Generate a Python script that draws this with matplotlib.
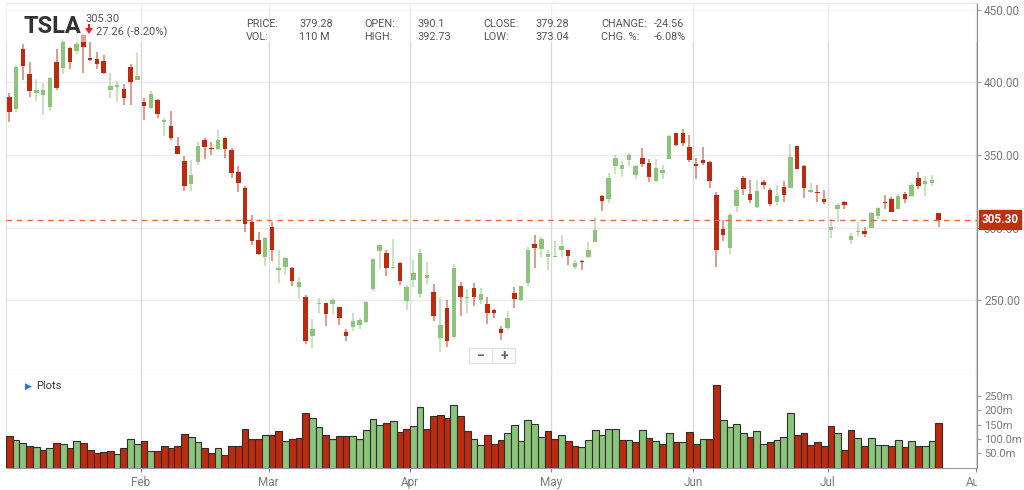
import numpy as np
import pandas as pd
import matplotlib.pyplot as plt
from matplotlib.patches import Rectangle, Polygon
from matplotlib.transforms import Bbox, TransformedBbox

plt.rcParams['font.family'] = ['Roboto', 'DejaVu Sans']

# TSLA daily bars, Jan 2 - Jul 24 2025
holidays = ['2025-01-09', '2025-01-20', '2025-02-17', '2025-04-18',
            '2025-05-26', '2025-06-19', '2025-07-04']
dates = pd.bdate_range('2025-01-02', '2025-07-24', freq='C', holidays=holidays)

opens = [390.10, 381.48, 423.20, 405.83, 392.95, 391.40, 383.21, 414.34, 409.90, 423.49,
         421.50, 432.64, 416.81, 416.06, 414.45, 394.80, 396.91, 395.21, 410.78, 401.53,
         386.68, 382.63, 387.51, 373.03, 370.19, 356.21, 345.80, 329.94, 345.00, 360.62,
         355.01, 354.00, 361.51, 353.44, 338.14, 327.02, 303.71, 291.16, 279.50,
         300.34, 270.93, 272.92, 272.06, 259.32, 252.54, 225.31, 247.22, 248.13, 247.31,
         245.06, 228.16, 231.61, 233.35, 234.99, 258.08, 283.60, 282.66, 272.48, 275.58, 249.31,
         263.80, 254.60, 265.29, 255.38, 223.78, 245.00, 224.69, 260.00, 251.84, 258.36,
         249.91, 247.61, 243.47, 230.26, 230.96, 254.86, 250.50, 261.69, 288.98, 285.50, 279.90,
         280.01, 284.90, 284.57, 273.11, 276.88, 279.63, 290.21, 321.99, 320.00, 342.50,
         340.34, 346.24, 336.30, 347.87, 344.43, 331.90, 337.92, 347.35, 364.84, 365.29, 355.52,
         343.50, 346.60, 345.10, 322.49, 298.83, 285.96, 314.94, 334.40, 323.08, 313.97,
         331.29, 326.09, 317.31, 327.95, 327.54, 356.17, 342.70, 324.61, 324.51, 319.90,
         298.46, 312.63, 317.99, 291.37, 297.00, 297.55, 300.05, 307.89, 317.73, 319.68,
         312.80, 323.15, 321.66, 334.40, 329.74, 330.90, 310.00]
highs = [392.73, 411.88, 426.43, 414.33, 402.50, 399.28, 403.79, 422.64, 429.80, 424.00,
         439.74, 433.20, 428.00, 420.73, 418.88, 406.69, 400.59, 398.59, 412.50, 419.99,
         389.17, 394.00, 388.39, 375.40, 380.55, 362.70, 349.37, 346.40, 358.69, 362.00,
         359.10, 367.34, 362.30, 354.98, 342.40, 328.89, 309.00, 297.23, 293.88,
         303.94, 284.35, 279.55, 272.65, 266.25, 253.37, 237.06, 251.84, 248.29, 251.58,
         245.40, 230.10, 241.41, 238.00, 249.52, 278.64, 288.20, 284.90, 291.85, 276.10, 260.56,
         277.45, 284.99, 276.30, 261.00, 252.00, 250.44, 274.69, 262.49, 257.74, 261.80,
         258.75, 251.97, 244.34, 232.21, 242.79, 259.45, 259.54, 286.85, 294.86, 293.32, 284.45,
         290.87, 294.78, 284.85, 277.73, 277.92, 289.80, 307.04, 322.21, 337.59, 350.00,
         346.14, 351.62, 343.00, 354.99, 347.35, 347.27, 343.18, 363.79, 365.00, 367.71, 363.68,
         348.02, 355.40, 345.60, 324.55, 305.50, 309.83, 327.83, 335.50, 332.56, 332.99,
         332.70, 327.26, 329.32, 332.36, 357.54, 356.26, 343.00, 331.05, 329.34, 325.58,
         305.89, 316.83, 318.45, 296.15, 304.05, 300.15, 310.48, 314.09, 322.60, 321.20,
         323.50, 324.34, 330.90, 338.00, 335.41, 336.20, 310.15]
lows = [373.04, 379.45, 401.70, 390.00, 387.40, 377.29, 380.07, 394.54, 405.66, 409.13,
        419.75, 406.31, 414.59, 408.95, 405.78, 389.00, 386.50, 384.48, 384.41, 401.34,
        374.36, 381.40, 375.53, 363.18, 360.34, 350.51, 325.10, 325.35, 342.85, 347.50,
        350.02, 353.67, 348.00, 334.42, 324.70, 297.25, 288.04, 280.88, 273.60,
        277.30, 261.84, 267.71, 260.02, 250.73, 220.00, 217.02, 241.10, 232.60, 240.73,
        232.80, 222.28, 229.20, 230.05, 234.55, 256.33, 271.28, 266.51, 271.82, 260.57, 243.36,
        259.25, 251.27, 261.51, 236.00, 214.25, 217.80, 223.88, 239.33, 241.36, 245.93,
        247.54, 233.89, 237.68, 222.79, 229.85, 244.43, 249.20, 259.63, 272.42, 280.00, 270.78,
        279.81, 279.81, 274.40, 271.35, 271.00, 279.41, 290.00, 311.50, 316.80, 337.00,
        334.72, 342.33, 333.37, 341.63, 331.39, 331.39, 333.21, 347.32, 355.91, 356.00, 345.29,
        333.33, 343.04, 327.33, 273.21, 291.14, 281.85, 310.67, 322.50, 316.86, 313.30,
        326.26, 314.74, 315.45, 317.78, 327.48, 340.44, 320.40, 323.61, 317.50, 316.60,
        293.21, 303.82, 312.76, 288.77, 294.35, 293.55, 300.00, 305.65, 312.67, 310.50,
        312.62, 317.06, 321.42, 326.88, 321.55, 328.67, 300.41]
closes = [379.28, 410.44, 411.05, 394.36, 394.94, 394.74, 403.31, 396.36, 428.22, 413.82,
          426.50, 424.07, 415.11, 412.38, 406.58, 397.15, 398.09, 389.10, 400.28, 404.60,
          383.68, 392.21, 378.17, 374.32, 361.62, 350.73, 328.50, 336.51, 355.94, 355.84,
          354.11, 360.56, 354.40, 337.80, 330.53, 302.80, 290.80, 281.95, 292.98,
          284.65, 272.04, 279.10, 263.45, 262.67, 222.15, 230.58, 248.09, 240.68, 249.98,
          238.01, 225.31, 235.86, 236.26, 248.71, 278.39, 288.14, 272.06, 273.13, 263.55, 259.16,
          268.46, 282.76, 267.28, 239.43, 233.29, 221.86, 272.20, 252.40, 252.31, 252.35,
          254.11, 241.55, 241.37, 227.50, 237.97, 250.74, 259.51, 284.95, 285.88, 292.03, 282.16,
          280.52, 287.21, 280.26, 275.35, 276.22, 284.82, 298.26, 318.38, 334.07, 347.68,
          342.82, 349.98, 342.09, 343.82, 334.62, 341.04, 339.34, 362.89, 356.90, 358.43, 346.46,
          342.69, 344.27, 332.05, 284.70, 295.14, 308.58, 326.09, 326.43, 319.11, 325.31,
          329.13, 316.35, 322.05, 322.16, 348.68, 340.47, 327.55, 325.78, 323.63, 317.66,
          300.71, 315.65, 315.35, 293.94, 297.81, 295.88, 309.87, 313.51, 316.90, 310.78,
          321.67, 319.41, 329.65, 328.49, 332.11, 332.56, 305.30]
volumes = [110, 95, 86, 76, 73, 62, 68, 85, 81, 68, 94, 87, 60, 50, 56, 58, 48, 68, 98, 84,
           93, 57, 57, 77, 70, 77, 118, 105, 89, 68, 52, 67, 45, 74, 76, 134, 100, 101, 115,
           115, 126, 94, 98, 102, 189, 174, 142, 114, 100, 111, 111, 111, 99, 132, 170, 150,
           156, 162, 123, 134,
           146, 212, 136, 181, 183, 171, 219, 181, 128, 100, 79, 112, 83, 97, 120, 150, 94,
           167, 151, 108, 128,
           99, 114, 94, 76, 71, 97, 132, 112, 136, 136, 97, 95, 88, 131, 102, 94, 84, 120,
           91, 88, 123,
           81, 99, 99, 287, 165, 140, 151, 122, 105, 128, 83, 88, 95, 108, 190, 114, 119,
           80, 89, 77,
           145, 119, 60, 131, 103, 75, 104, 79, 78, 77, 97, 73, 94, 75, 77, 92, 156]
prev_close = 403.84
last_price = 305.30

price_ticks = [250, 300, 350, 400, 450]
vol_ticks = [50, 100, 150, 200, 250]
vol_labels = ['50.0m', '100.0m', '150m', '200m', '250m']
month_labels = ['Feb', 'Mar', 'Apr', 'May', 'Jun', 'Jul', 'Aug']

RED = '#bd2a0e'
GREEN = '#8cc47a'
GRID_V = '#dadada'
GRID_H = '#ececec'
LABEL = '#7a7a7a'

o = np.array(opens)
h = np.array(highs)
l = np.array(lows)
c = np.array(closes)
v = np.array(volumes)
x = np.arange(len(dates))

# month ticks sit between last day of a month and first day of the next
month_starts = [i for i in range(1, len(dates)) if dates[i].month != dates[i - 1].month]
aug_idx = len(dates) + len(pd.bdate_range('2025-07-25', '2025-07-31'))
month_pos = [i - 0.5 for i in month_starts] + [aug_idx - 0.5]

W, H = 1024, 490
fig = plt.figure(figsize=(W / 100, H / 100), dpi=100)


def fx(px):
    return px / W


def fy(py):
    return 1 - py / H


ax = fig.add_axes([fx(6), fy(375), fx(971), 372 / H])
axv = fig.add_axes([fx(6), fy(467.7), fx(971), 92.7 / H])

# --- candles
up = c >= o
cols = np.where(up, GREEN, RED)
ax.vlines(x, l, h, colors=cols, lw=1.1, alpha=0.6, zorder=3)
body_h = np.maximum(np.abs(c - o), 0.7)
ax.bar(x, body_h, bottom=np.minimum(o, c), width=0.66, color=cols, zorder=4, linewidth=0)

for t in price_ticks:
    ax.axhline(t, color=GRID_H, lw=1, zorder=1)
for p in month_pos:
    ax.axvline(p, color=GRID_V, lw=1, zorder=1)
    axv.axvline(p, color=GRID_V, lw=1, zorder=0)

ax.axhline(last_price, color='#e4674c', lw=1, dashes=(4, 3.5), zorder=5)

ax.set_xlim(-0.5, 143.7)
ax.set_ylim(198.6, 454.6)
ax.yaxis.tick_right()
ax.set_yticks(price_ticks)
ax.set_yticklabels([f'{t:.2f}' for t in price_ticks])
ax.tick_params(axis='y', colors='#999999', labelcolor=LABEL, labelsize=8.5, length=3, pad=2)
ax.set_xticks([])
for s in ['top', 'bottom']:
    ax.spines[s].set_color('#d0d0d0')
ax.spines['left'].set_color('#dedede')
ax.spines['right'].set_color('#8a8a8a')

# pale header band over the top of the price panel
ax.add_patch(Rectangle((0, (375 - 42) / 372), 1, 42 / 372, transform=ax.transAxes,
                       facecolor='white', alpha=0.55, edgecolor='none', zorder=6))

# --- volume
prev = np.concatenate([[prev_close], c[:-1]])
vcols = np.where(c >= prev, GREEN, RED)
axv.bar(x, v, width=1.0, color=vcols, edgecolor='#2e2e2e', linewidth=0.8, zorder=3)
axv.set_xlim(-0.5, 143.7)
axv.set_ylim(0, 322)
axv.yaxis.tick_right()
axv.set_yticks(vol_ticks)
axv.set_yticklabels(vol_labels)
axv.tick_params(axis='y', colors='#999999', labelcolor=LABEL, labelsize=8, length=3, pad=2)
axv.set_xticks(month_pos)
axv.set_xticklabels(month_labels)
axv.tick_params(axis='x', colors='#888888', labelcolor=LABEL, labelsize=8.5, length=3, pad=3)
# month labels are cut off at the right edge of the plot, like "Au" in the original
clip = TransformedBbox(Bbox([[0, 0], [fx(977), 1]]), fig.transFigure)
for lab in axv.get_xticklabels():
    lab.set_clip_box(clip)
    lab.set_clip_on(True)
axv.spines['top'].set_visible(False)
axv.spines['left'].set_color('#dedede')
axv.spines['right'].set_color('#8a8a8a')
axv.spines['bottom'].set_color('#9a9a9a')

fig.text(fx(25), fy(386), '\u25B6', color='#2f6fd8', fontsize=6.5, va='center', ha='left')
fig.text(fx(36), fy(386), 'Plots', color='#333333', fontsize=8, va='center', ha='left')

# --- header
fig.text(fx(24), fy(33), 'TSLA', fontsize=17, fontweight='bold', color='#333333', va='baseline')
fig.text(fx(86), fy(22), '305.30', fontsize=8, color='#555555', va='baseline')
fig.add_artist(Polygon([(fx(85), fy(28)), (fx(93), fy(28)), (fx(89), fy(34))],
                       closed=True, facecolor='#e8202a', edgecolor='none', transform=fig.transFigure))
fig.add_artist(Rectangle((fx(87.6), fy(28.5)), fx(2.8), 4 / H, facecolor='#e8202a',
                         edgecolor='none', transform=fig.transFigure))
fig.text(fx(96), fy(35), '27.26 (-8.20%)', fontsize=8, color='#555555', va='baseline')

fields = [('PRICE:', '379.28', 'VOL:', '110 M', 246, 299),
          ('OPEN:', '390.1', 'HIGH:', '392.73', 364, 417),
          ('CLOSE:', '379.28', 'LOW:', '373.04', 483, 535),
          ('CHANGE:', '-24.56', 'CHG. %:', '-6.08%', 601, 654)]
for k1, v1, k2, v2, xk, xv in fields:
    fig.text(fx(xk), fy(27), k1, fontsize=7.8, color='#555555', va='baseline')
    fig.text(fx(xv), fy(27), v1, fontsize=7.8, color='#555555', va='baseline')
    fig.text(fx(xk), fy(40.5), k2, fontsize=7.8, color='#555555', va='baseline')
    fig.text(fx(xv), fy(40.5), v2, fontsize=7.8, color='#555555', va='baseline')

# last price tag on the axis (covers the 300.00 label, as in the original)
fig.text(fx(1000), fy(219.5), f'{last_price:.2f}', fontsize=8.5, fontweight='bold', color='white',
         ha='center', va='center',
         bbox=dict(boxstyle='square,pad=0.25', facecolor='#c0300f', edgecolor='#c0300f'))

# zoom buttons
fig.add_artist(Rectangle((fx(469), fy(363)), fx(46), 15 / H, facecolor='#fbfbfb',
                         edgecolor='#e0e0e0', lw=0.8, transform=fig.transFigure))
fig.add_artist(plt.Line2D([fx(492), fx(492)], [fy(362), fy(349)], color='#e6e6e6', lw=0.8,
                          transform=fig.transFigure))
fig.text(fx(481), fy(355.5), '\u2212', fontsize=10, fontweight='bold', color='#666666',
         ha='center', va='center')
fig.text(fx(504), fy(355.5), '+', fontsize=10, fontweight='bold', color='#666666',
         ha='center', va='center')

fig.savefig('out.png', dpi=100)
